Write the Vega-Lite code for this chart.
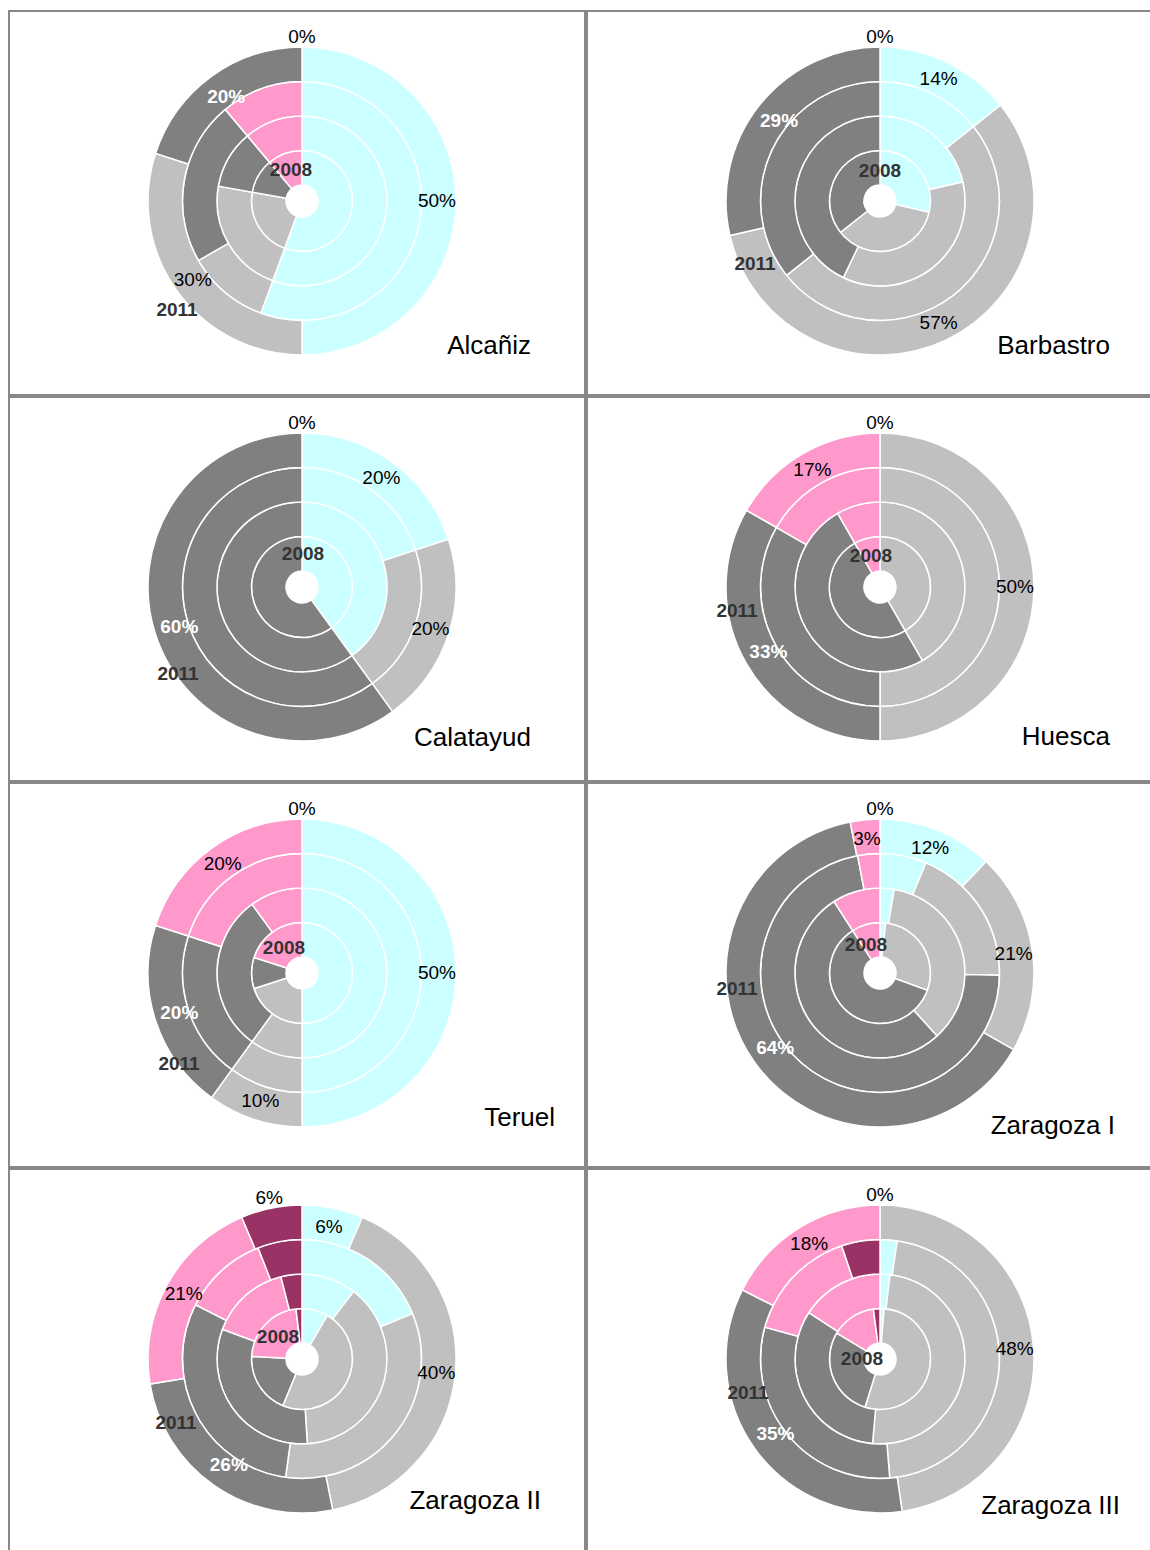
{
  "$schema": "https://vega.github.io/schema/vega-lite/v6.json",
  "padding": {"left": 8, "top": 10, "right": 0, "bottom": 0},
  "background": "white",
  "config": {
    "view": {"stroke": "#888888", "strokeWidth": 2},
    "font": "Liberation Sans",
    "header": {"labels": false, "title": null, "labelExpr": "''", "labelPadding": 0, "labelFontSize": 0},
    "headerFacet": {"labels": false, "title": null, "labelExpr": "''", "labelPadding": 0, "labelFontSize": 0}
  },
  "data": {
    "values": [
      {"d": "Alcañiz", "year": 2008, "cat": "A", "share": 0.556},
      {"d": "Alcañiz", "year": 2008, "cat": "B", "share": 0.222},
      {"d": "Alcañiz", "year": 2008, "cat": "C", "share": 0.111},
      {"d": "Alcañiz", "year": 2008, "cat": "D", "share": 0.111},
      {"d": "Alcañiz", "year": 2008, "cat": "E", "share": 0},
      {"d": "Alcañiz", "year": 2009, "cat": "A", "share": 0.556},
      {"d": "Alcañiz", "year": 2009, "cat": "B", "share": 0.222},
      {"d": "Alcañiz", "year": 2009, "cat": "C", "share": 0.111},
      {"d": "Alcañiz", "year": 2009, "cat": "D", "share": 0.111},
      {"d": "Alcañiz", "year": 2009, "cat": "E", "share": 0},
      {"d": "Alcañiz", "year": 2010, "cat": "A", "share": 0.556},
      {"d": "Alcañiz", "year": 2010, "cat": "B", "share": 0.111},
      {"d": "Alcañiz", "year": 2010, "cat": "C", "share": 0.222},
      {"d": "Alcañiz", "year": 2010, "cat": "D", "share": 0.111},
      {"d": "Alcañiz", "year": 2010, "cat": "E", "share": 0},
      {"d": "Alcañiz", "year": 2011, "cat": "A", "share": 0.5},
      {"d": "Alcañiz", "year": 2011, "cat": "B", "share": 0.3},
      {"d": "Alcañiz", "year": 2011, "cat": "C", "share": 0.2},
      {"d": "Alcañiz", "year": 2011, "cat": "D", "share": 0},
      {"d": "Alcañiz", "year": 2011, "cat": "E", "share": 0},

      {"d": "Barbastro", "year": 2008, "cat": "A", "share": 0.286},
      {"d": "Barbastro", "year": 2008, "cat": "B", "share": 0.357},
      {"d": "Barbastro", "year": 2008, "cat": "C", "share": 0.357},
      {"d": "Barbastro", "year": 2008, "cat": "D", "share": 0},
      {"d": "Barbastro", "year": 2008, "cat": "E", "share": 0},
      {"d": "Barbastro", "year": 2009, "cat": "A", "share": 0.214},
      {"d": "Barbastro", "year": 2009, "cat": "B", "share": 0.357},
      {"d": "Barbastro", "year": 2009, "cat": "C", "share": 0.429},
      {"d": "Barbastro", "year": 2009, "cat": "D", "share": 0},
      {"d": "Barbastro", "year": 2009, "cat": "E", "share": 0},
      {"d": "Barbastro", "year": 2010, "cat": "A", "share": 0.143},
      {"d": "Barbastro", "year": 2010, "cat": "B", "share": 0.5},
      {"d": "Barbastro", "year": 2010, "cat": "C", "share": 0.357},
      {"d": "Barbastro", "year": 2010, "cat": "D", "share": 0},
      {"d": "Barbastro", "year": 2010, "cat": "E", "share": 0},
      {"d": "Barbastro", "year": 2011, "cat": "A", "share": 0.143},
      {"d": "Barbastro", "year": 2011, "cat": "B", "share": 0.571},
      {"d": "Barbastro", "year": 2011, "cat": "C", "share": 0.286},
      {"d": "Barbastro", "year": 2011, "cat": "D", "share": 0},
      {"d": "Barbastro", "year": 2011, "cat": "E", "share": 0},

      {"d": "Calatayud", "year": 2008, "cat": "A", "share": 0.4},
      {"d": "Calatayud", "year": 2008, "cat": "B", "share": 0},
      {"d": "Calatayud", "year": 2008, "cat": "C", "share": 0.6},
      {"d": "Calatayud", "year": 2008, "cat": "D", "share": 0},
      {"d": "Calatayud", "year": 2008, "cat": "E", "share": 0},
      {"d": "Calatayud", "year": 2009, "cat": "A", "share": 0.4},
      {"d": "Calatayud", "year": 2009, "cat": "B", "share": 0},
      {"d": "Calatayud", "year": 2009, "cat": "C", "share": 0.6},
      {"d": "Calatayud", "year": 2009, "cat": "D", "share": 0},
      {"d": "Calatayud", "year": 2009, "cat": "E", "share": 0},
      {"d": "Calatayud", "year": 2010, "cat": "A", "share": 0.2},
      {"d": "Calatayud", "year": 2010, "cat": "B", "share": 0.2},
      {"d": "Calatayud", "year": 2010, "cat": "C", "share": 0.6},
      {"d": "Calatayud", "year": 2010, "cat": "D", "share": 0},
      {"d": "Calatayud", "year": 2010, "cat": "E", "share": 0},
      {"d": "Calatayud", "year": 2011, "cat": "A", "share": 0.2},
      {"d": "Calatayud", "year": 2011, "cat": "B", "share": 0.2},
      {"d": "Calatayud", "year": 2011, "cat": "C", "share": 0.6},
      {"d": "Calatayud", "year": 2011, "cat": "D", "share": 0},
      {"d": "Calatayud", "year": 2011, "cat": "E", "share": 0},

      {"d": "Huesca", "year": 2008, "cat": "A", "share": 0},
      {"d": "Huesca", "year": 2008, "cat": "B", "share": 0.417},
      {"d": "Huesca", "year": 2008, "cat": "C", "share": 0.5},
      {"d": "Huesca", "year": 2008, "cat": "D", "share": 0.083},
      {"d": "Huesca", "year": 2008, "cat": "E", "share": 0},
      {"d": "Huesca", "year": 2009, "cat": "A", "share": 0},
      {"d": "Huesca", "year": 2009, "cat": "B", "share": 0.417},
      {"d": "Huesca", "year": 2009, "cat": "C", "share": 0.5},
      {"d": "Huesca", "year": 2009, "cat": "D", "share": 0.083},
      {"d": "Huesca", "year": 2009, "cat": "E", "share": 0},
      {"d": "Huesca", "year": 2010, "cat": "A", "share": 0},
      {"d": "Huesca", "year": 2010, "cat": "B", "share": 0.5},
      {"d": "Huesca", "year": 2010, "cat": "C", "share": 0.333},
      {"d": "Huesca", "year": 2010, "cat": "D", "share": 0.167},
      {"d": "Huesca", "year": 2010, "cat": "E", "share": 0},
      {"d": "Huesca", "year": 2011, "cat": "A", "share": 0},
      {"d": "Huesca", "year": 2011, "cat": "B", "share": 0.5},
      {"d": "Huesca", "year": 2011, "cat": "C", "share": 0.333},
      {"d": "Huesca", "year": 2011, "cat": "D", "share": 0.167},
      {"d": "Huesca", "year": 2011, "cat": "E", "share": 0},

      {"d": "Teruel", "year": 2008, "cat": "A", "share": 0.5},
      {"d": "Teruel", "year": 2008, "cat": "B", "share": 0.2},
      {"d": "Teruel", "year": 2008, "cat": "C", "share": 0.1},
      {"d": "Teruel", "year": 2008, "cat": "D", "share": 0.2},
      {"d": "Teruel", "year": 2008, "cat": "E", "share": 0},
      {"d": "Teruel", "year": 2009, "cat": "A", "share": 0.5},
      {"d": "Teruel", "year": 2009, "cat": "B", "share": 0.1},
      {"d": "Teruel", "year": 2009, "cat": "C", "share": 0.3},
      {"d": "Teruel", "year": 2009, "cat": "D", "share": 0.1},
      {"d": "Teruel", "year": 2009, "cat": "E", "share": 0},
      {"d": "Teruel", "year": 2010, "cat": "A", "share": 0.5},
      {"d": "Teruel", "year": 2010, "cat": "B", "share": 0.1},
      {"d": "Teruel", "year": 2010, "cat": "C", "share": 0.2},
      {"d": "Teruel", "year": 2010, "cat": "D", "share": 0.2},
      {"d": "Teruel", "year": 2010, "cat": "E", "share": 0},
      {"d": "Teruel", "year": 2011, "cat": "A", "share": 0.5},
      {"d": "Teruel", "year": 2011, "cat": "B", "share": 0.1},
      {"d": "Teruel", "year": 2011, "cat": "C", "share": 0.2},
      {"d": "Teruel", "year": 2011, "cat": "D", "share": 0.2},
      {"d": "Teruel", "year": 2011, "cat": "E", "share": 0},

      {"d": "Zaragoza I", "year": 2008, "cat": "A", "share": 0.018},
      {"d": "Zaragoza I", "year": 2008, "cat": "B", "share": 0.288},
      {"d": "Zaragoza I", "year": 2008, "cat": "C", "share": 0.603},
      {"d": "Zaragoza I", "year": 2008, "cat": "D", "share": 0.091},
      {"d": "Zaragoza I", "year": 2008, "cat": "E", "share": 0},
      {"d": "Zaragoza I", "year": 2009, "cat": "A", "share": 0.027},
      {"d": "Zaragoza I", "year": 2009, "cat": "B", "share": 0.356},
      {"d": "Zaragoza I", "year": 2009, "cat": "C", "share": 0.526},
      {"d": "Zaragoza I", "year": 2009, "cat": "D", "share": 0.091},
      {"d": "Zaragoza I", "year": 2009, "cat": "E", "share": 0},
      {"d": "Zaragoza I", "year": 2010, "cat": "A", "share": 0.063},
      {"d": "Zaragoza I", "year": 2010, "cat": "B", "share": 0.19},
      {"d": "Zaragoza I", "year": 2010, "cat": "C", "share": 0.717},
      {"d": "Zaragoza I", "year": 2010, "cat": "D", "share": 0.03},
      {"d": "Zaragoza I", "year": 2010, "cat": "E", "share": 0},
      {"d": "Zaragoza I", "year": 2011, "cat": "A", "share": 0.121},
      {"d": "Zaragoza I", "year": 2011, "cat": "B", "share": 0.212},
      {"d": "Zaragoza I", "year": 2011, "cat": "C", "share": 0.636},
      {"d": "Zaragoza I", "year": 2011, "cat": "D", "share": 0.031},
      {"d": "Zaragoza I", "year": 2011, "cat": "E", "share": 0},

      {"d": "Zaragoza II", "year": 2008, "cat": "A", "share": 0.084},
      {"d": "Zaragoza II", "year": 2008, "cat": "B", "share": 0.478},
      {"d": "Zaragoza II", "year": 2008, "cat": "C", "share": 0.196},
      {"d": "Zaragoza II", "year": 2008, "cat": "D", "share": 0.223},
      {"d": "Zaragoza II", "year": 2008, "cat": "E", "share": 0.019},
      {"d": "Zaragoza II", "year": 2009, "cat": "A", "share": 0.104},
      {"d": "Zaragoza II", "year": 2009, "cat": "B", "share": 0.386},
      {"d": "Zaragoza II", "year": 2009, "cat": "C", "share": 0.317},
      {"d": "Zaragoza II", "year": 2009, "cat": "D", "share": 0.153},
      {"d": "Zaragoza II", "year": 2009, "cat": "E", "share": 0.04},
      {"d": "Zaragoza II", "year": 2010, "cat": "A", "share": 0.188},
      {"d": "Zaragoza II", "year": 2010, "cat": "B", "share": 0.334},
      {"d": "Zaragoza II", "year": 2010, "cat": "C", "share": 0.303},
      {"d": "Zaragoza II", "year": 2010, "cat": "D", "share": 0.115},
      {"d": "Zaragoza II", "year": 2010, "cat": "E", "share": 0.06},
      {"d": "Zaragoza II", "year": 2011, "cat": "A", "share": 0.064},
      {"d": "Zaragoza II", "year": 2011, "cat": "B", "share": 0.404},
      {"d": "Zaragoza II", "year": 2011, "cat": "C", "share": 0.256},
      {"d": "Zaragoza II", "year": 2011, "cat": "D", "share": 0.212},
      {"d": "Zaragoza II", "year": 2011, "cat": "E", "share": 0.064},

      {"d": "Zaragoza III", "year": 2008, "cat": "A", "share": 0.013},
      {"d": "Zaragoza III", "year": 2008, "cat": "B", "share": 0.535},
      {"d": "Zaragoza III", "year": 2008, "cat": "C", "share": 0.288},
      {"d": "Zaragoza III", "year": 2008, "cat": "D", "share": 0.143},
      {"d": "Zaragoza III", "year": 2008, "cat": "E", "share": 0.021},
      {"d": "Zaragoza III", "year": 2009, "cat": "A", "share": 0.019},
      {"d": "Zaragoza III", "year": 2009, "cat": "B", "share": 0.495},
      {"d": "Zaragoza III", "year": 2009, "cat": "C", "share": 0.328},
      {"d": "Zaragoza III", "year": 2009, "cat": "D", "share": 0.158},
      {"d": "Zaragoza III", "year": 2009, "cat": "E", "share": 0},
      {"d": "Zaragoza III", "year": 2010, "cat": "A", "share": 0.023},
      {"d": "Zaragoza III", "year": 2010, "cat": "B", "share": 0.464},
      {"d": "Zaragoza III", "year": 2010, "cat": "C", "share": 0.306},
      {"d": "Zaragoza III", "year": 2010, "cat": "D", "share": 0.155},
      {"d": "Zaragoza III", "year": 2010, "cat": "E", "share": 0.052},
      {"d": "Zaragoza III", "year": 2011, "cat": "A", "share": 0},
      {"d": "Zaragoza III", "year": 2011, "cat": "B", "share": 0.477},
      {"d": "Zaragoza III", "year": 2011, "cat": "C", "share": 0.347},
      {"d": "Zaragoza III", "year": 2011, "cat": "D", "share": 0.176},
      {"d": "Zaragoza III", "year": 2011, "cat": "E", "share": 0}
    ]
  },
  "facet": {
    "field": "d",
    "type": "nominal",
    "header": {"labels": false, "title": null, "labelExpr": "''", "labelPadding": 0, "labelFontSize": 0},
    "sort": ["Alcañiz", "Barbastro", "Calatayud", "Huesca", "Teruel", "Zaragoza I", "Zaragoza II", "Zaragoza III"]
  },
  "columns": 2,
  "spacing": 0,
  "spec": {
    "width": 576,
    "height": 384,
    "view": {"stroke": "#888888", "strokeWidth": 2},
    "layer": [
      {
        "transform": [{"filter": "datum.share > 0"}],
        "mark": {"type": "arc", "stroke": "white", "strokeWidth": 1.5, "xOffset": 5, "yOffset": -2},
        "encoding": {
          "theta": {"field": "share", "type": "quantitative", "stack": "zero", "scale": {"domain": [0, 1]}},
          "radius": {
            "field": "year",
            "type": "ordinal",
            "scale": {"type": "band", "domain": [2008, 2009, 2010, 2011], "range": [16, 154], "paddingInner": 0, "paddingOuter": 0}
          },
          "color": {
            "field": "cat",
            "type": "nominal",
            "scale": {"domain": ["A", "B", "C", "D", "E"], "range": ["#ccffff", "#c0c0c0", "#808080", "#ff99cc", "#993366"]},
            "legend": null
          },
          "order": {"field": "cat"}
        }
      },
      {
        "transform": [{"filter": "datum.year == 2011"}],
        "mark": {"type": "text", "radius": 135, "fontSize": 19, "color": "#000000", "xOffset": 5, "yOffset": -2},
        "encoding": {
          "theta": {"field": "share", "type": "quantitative", "stack": "zero", "scale": {"domain": [0, 1]}},
          "detail": {"field": "cat"},
          "order": {"field": "cat"},
          "text": {
            "condition": {"test": "datum.cat != 'C' && datum.cat != 'E' && datum.share > 0", "field": "share", "type": "quantitative", "format": ".0%"},
            "value": ""
          }
        }
      },
      {
        "transform": [{"filter": "datum.year == 2011"}],
        "mark": {"type": "text", "radius": 129, "fontSize": 19, "fontWeight": "bold", "color": "#ffffff", "xOffset": 5, "yOffset": -2},
        "encoding": {
          "theta": {"field": "share", "type": "quantitative", "stack": "zero", "scale": {"domain": [0, 1]}},
          "detail": {"field": "cat"},
          "order": {"field": "cat"},
          "text": {
            "condition": {"test": "datum.cat == 'C' && datum.share > 0", "field": "share", "type": "quantitative", "format": ".0%"},
            "value": ""
          }
        }
      },
      {
        "transform": [{"filter": "datum.year == 2011"}],
        "mark": {"type": "text", "radius": 164, "fontSize": 19, "color": "#000000", "xOffset": 5, "yOffset": -2},
        "encoding": {
          "theta": {"field": "share", "type": "quantitative", "stack": "zero", "scale": {"domain": [0, 1]}},
          "detail": {"field": "cat"},
          "order": {"field": "cat"},
          "text": {
            "condition": {"test": "datum.cat == 'E'", "field": "share", "type": "quantitative", "format": ".0%"},
            "value": ""
          }
        }
      },
      {
        "transform": [{"filter": "datum.year == 2008 && datum.cat == 'A'"}],
        "mark": {
          "type": "text", "fontSize": 19, "fontWeight": "bold", "color": "#333333", "xOffset": 5, "yOffset": -2,
          "dx": {"expr": "[-11, 0, 1, -9, -18, -14, -24, -18][indexof(['Alcañiz', 'Barbastro', 'Calatayud', 'Huesca', 'Teruel', 'Zaragoza I', 'Zaragoza II', 'Zaragoza III'], datum.d)]"},
          "dy": {"expr": "[-31, -30, -33, -31, -25, -28, -22, 0][indexof(['Alcañiz', 'Barbastro', 'Calatayud', 'Huesca', 'Teruel', 'Zaragoza I', 'Zaragoza II', 'Zaragoza III'], datum.d)]"}
        },
        "encoding": {"text": {"field": "year", "type": "ordinal"}}
      },
      {
        "transform": [{"filter": "datum.year == 2011 && datum.cat == 'A'"}],
        "mark": {
          "type": "text", "fontSize": 19, "fontWeight": "bold", "color": "#333333", "xOffset": 5, "yOffset": -2,
          "dx": {"expr": "[-125, -125, -124, -143, -123, -143, -126, -132][indexof(['Alcañiz', 'Barbastro', 'Calatayud', 'Huesca', 'Teruel', 'Zaragoza I', 'Zaragoza II', 'Zaragoza III'], datum.d)]"},
          "dy": {"expr": "[109, 63, 87, 24, 91, 16, 64, 34][indexof(['Alcañiz', 'Barbastro', 'Calatayud', 'Huesca', 'Teruel', 'Zaragoza I', 'Zaragoza II', 'Zaragoza III'], datum.d)]"}
        },
        "encoding": {"text": {"field": "year", "type": "ordinal"}}
      },
      {
        "transform": [{"filter": "datum.year == 2011 && datum.cat == 'A'"}],
        "mark": {
          "type": "text", "x": "width", "y": "height", "align": "right", "baseline": "middle", "fontSize": 26, "color": "#000000",
          "dx": {"expr": "[-54, -53, -54, -53, -30, -48, -44, -43][indexof(['Alcañiz', 'Barbastro', 'Calatayud', 'Huesca', 'Teruel', 'Zaragoza I', 'Zaragoza II', 'Zaragoza III'], datum.d)]"},
          "dy": {"expr": "[-49, -49, -43, -44, -49, -41, -52, -47][indexof(['Alcañiz', 'Barbastro', 'Calatayud', 'Huesca', 'Teruel', 'Zaragoza I', 'Zaragoza II', 'Zaragoza III'], datum.d)]"}
        },
        "encoding": {"text": {"field": "d", "type": "nominal"}}
      }
    ]
  }
}
